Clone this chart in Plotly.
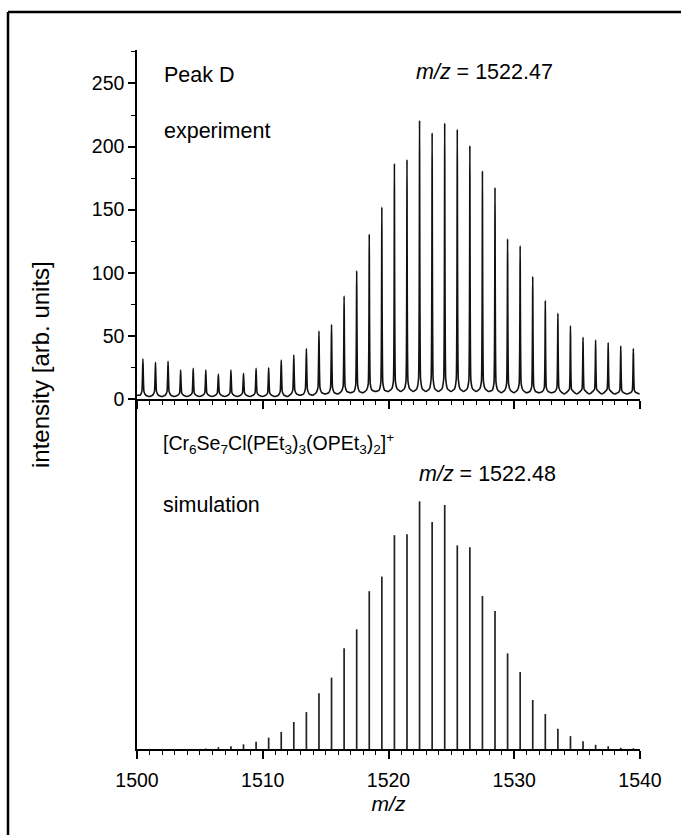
import plotly.graph_objects as go

# ---------------- data ----------------
# experimental isotope pattern (top panel)
exp_mz = [1500.47, 1501.47, 1502.47, 1503.47, 1504.47, 1505.47, 1506.47, 1507.47,
          1508.47, 1509.47, 1510.47, 1511.47, 1512.47, 1513.47, 1514.47, 1515.47,
          1516.47, 1517.47, 1518.47, 1519.47, 1520.47, 1521.47, 1522.47, 1523.47,
          1524.47, 1525.47, 1526.47, 1527.47, 1528.47, 1529.47, 1530.47, 1531.47,
          1532.47, 1533.47, 1534.47, 1535.47, 1536.47, 1537.47, 1538.47, 1539.47]
exp_peak = [31.6, 29, 29.8, 23, 24.3, 23, 19.8, 23, 20.3, 24.3,
            24.8, 30.9, 34.8, 40, 53.8, 59, 81.5, 101.5, 130.5, 152,
            186.5, 189.6, 220.7, 210.7, 218.6, 213.6, 200.7, 180.6, 167.5, 126.8,
            121.3, 97, 78, 67.8, 58, 48.8, 46.7, 44.6, 42, 39.8]
# intensity where each sharp peak flares into its base
exp_foot = [6, 6, 6, 5, 5, 5, 5, 5, 5, 5,
            5, 6, 7, 8, 9, 9, 10, 11, 12, 13,
            14, 14, 16, 16, 16, 16, 15, 14, 13, 12,
            12, 10, 9, 9, 8, 8, 8, 8, 7, 7]
# intensity on the rounded base of each peak
exp_base = [3, 3, 3, 3, 3, 3, 3, 3, 3, 3,
            3, 3, 4, 4, 5, 5, 6, 6, 7, 7,
            8, 8, 8, 8, 8, 8, 8, 8, 7, 7,
            7, 6, 6, 6, 6, 6, 6, 6, 5, 5]
# valley intensities (before the first peak, between peaks, after the last)
exp_valley_mz = [1500.0, 1500.97, 1501.97, 1502.97, 1503.97, 1504.97, 1505.97, 1506.97,
                 1507.97, 1508.97, 1509.97, 1510.97, 1511.97, 1512.97, 1513.97, 1514.97,
                 1515.97, 1516.97, 1517.97, 1518.97, 1519.97, 1520.97, 1521.97, 1522.97,
                 1523.97, 1524.97, 1525.97, 1526.97, 1527.97, 1528.97, 1529.97, 1530.97,
                 1531.97, 1532.97, 1533.97, 1534.97, 1535.97, 1536.97, 1537.97, 1538.97,
                 1539.97]
exp_valley = [3, 2, 2, 2, 2, 2, 2, 2, 2, 2, 2, 2, 2, 3,
              3, 4, 4, 5, 5, 6, 6, 6, 6, 6, 6, 6, 6, 6, 6, 5, 5,
              5, 5, 5, 4, 4, 4, 4, 4, 4, 4]
foot_offset = 0.08   # half width of the sharp tip (m/z)
base_offset = 0.22   # half width of the rounded base (m/z)

# simulated isotope pattern (bottom panel, % of max)
sim_mz = exp_mz
sim_int = [0, 0, 0, 0, 0, 0.2, 0.7, 1.1, 1.9, 2.9,
           4.6, 6.9, 10.9, 14.9, 22.5, 28.8, 40.7, 48.3, 63.7, 69.6,
           86.3, 86.7, 100, 91.6, 98.5, 82.2, 81.4, 61.8, 55.7, 38.6,
           31.1, 19.8, 14.1, 8.2, 5.2, 3.1, 1.7, 1.1, 0.5, 0.3]

x_ticks = [1500, 1510, 1520, 1530, 1540]
y_ticks = [0, 50, 100, 150, 200, 250]

# ---------------- build traces ----------------
px, py = [], []
for i in range(len(exp_mz)):
    px.append(exp_valley_mz[i]); py.append(exp_valley[i])
    c = exp_mz[i]
    px += [c - base_offset, c - foot_offset, c, c + foot_offset, c + base_offset]
    py += [exp_base[i], exp_foot[i], exp_peak[i], exp_foot[i], exp_base[i]]
px.append(exp_valley_mz[-1]); py.append(exp_valley[-1])

sx, sy = [], []
for m, v in zip(sim_mz, sim_int):
    if v <= 0:
        continue
    sx += [m, m, None]
    sy += [0, v, None]

fig = go.Figure()
fig.add_trace(go.Scatter(x=px, y=py, mode="lines", xaxis="x2", yaxis="y2",
                         line=dict(color="#111111", width=1.6, shape="spline",
                                   smoothing=0.35),
                         showlegend=False, hoverinfo="skip"))
fig.add_trace(go.Scatter(x=sx, y=sy, mode="lines", xaxis="x", yaxis="y",
                         line=dict(color="#222222", width=1.7), showlegend=False,
                         hoverinfo="skip"))

FONT = "Liberation Sans, Arial, sans-serif"
L, R, T, B = 137, 41, 50, 86
W, H = 681, 835
pw, ph = W - L - R, H - T - B
split = 350 / ph

def pxx(x):
    return (x - L) / pw

def pxy(y):
    return (H - B - y) / ph

axis_common = dict(range=[1500, 1540], showline=True, linecolor="black", linewidth=1.5,
                   ticks="outside", tickcolor="black", tickwidth=1.5, ticklen=8,
                   tickvals=x_ticks, showgrid=False, zeroline=False, mirror=False,
                   minor=dict(dtick=1, ticks="outside", ticklen=4, tickcolor="black",
                              tickwidth=1.2, showgrid=False))

fig.update_layout(
    width=W, height=H,
    margin=dict(l=L, r=R, t=T, b=B, pad=0),
    paper_bgcolor="white", plot_bgcolor="white",
    font=dict(family=FONT, color="black", size=19),
    xaxis=dict(**axis_common, domain=[0, 1], anchor="y", showticklabels=True,
               tickfont=dict(size=19.5), ticklabelstandoff=5,
               title=dict(text="<i>m/z</i>", font=dict(size=21), standoff=6)),
    yaxis=dict(domain=[0, split], range=[0, 141.3], showline=True, linecolor="black",
               linewidth=1.5, ticks="", showticklabels=False, showgrid=False,
               zeroline=False),
    xaxis2=dict(**axis_common, domain=[0, 1], anchor="y2", showticklabels=False),
    yaxis2=dict(domain=[split, 1], range=[0, 276.5], showline=True, linecolor="black",
                linewidth=1.5, ticks="outside", tickcolor="black", tickwidth=1.5,
                ticklen=7, tickvals=y_ticks, tickfont=dict(size=19.5), showgrid=False,
                zeroline=False,
                minor=dict(tickvals=[25, 75, 125, 175, 225, 275], ticks="outside",
                           ticklen=4, tickcolor="black", tickwidth=1.2, showgrid=False)),
)

ann_font = dict(family=FONT, size=21.5, color="black")
annotations = [
    dict(text="Peak D", x=pxx(162), y=pxy(75)),
    dict(text="experiment", x=pxx(162), y=pxy(131)),
    dict(text="<i>m/z</i> = 1522.47", x=pxx(414), y=pxy(72)),
    dict(text="simulation", x=pxx(161), y=pxy(505)),
    dict(text="<i>m/z</i> = 1522.48", x=pxx(417), y=pxy(474)),
]
for a in annotations:
    fig.add_annotation(xref="paper", yref="paper", xanchor="left", yanchor="middle",
                       showarrow=False, font=ann_font, **a)
fig.add_annotation(
    text="[Cr<sub>6</sub>Se<sub>7</sub>Cl(PEt<sub>3</sub>)<sub>3</sub>(OPEt<sub>3</sub>)<sub>2</sub>]<sup>+</sup>",
    xref="paper", yref="paper", x=pxx(161), y=pxy(443), xanchor="left",
    yanchor="middle", showarrow=False, font=dict(family=FONT, size=19.5, color="black"))
fig.add_annotation(text="intensity [arb. units]", xref="paper", yref="paper",
                   x=pxx(40), y=pxy(365), xanchor="center", yanchor="middle",
                   textangle=-90, showarrow=False, font=dict(family=FONT, size=24))

# frame lines of the original figure (top and left edges)
fig.add_shape(type="line", xref="paper", yref="paper", x0=pxx(8), x1=pxx(681),
              y0=pxy(12), y1=pxy(12), line=dict(color="black", width=2.5))
fig.add_shape(type="line", xref="paper", yref="paper", x0=pxx(8), x1=pxx(8),
              y0=pxy(12), y1=pxy(835), line=dict(color="black", width=2.5))

fig.write_html("out.html")
